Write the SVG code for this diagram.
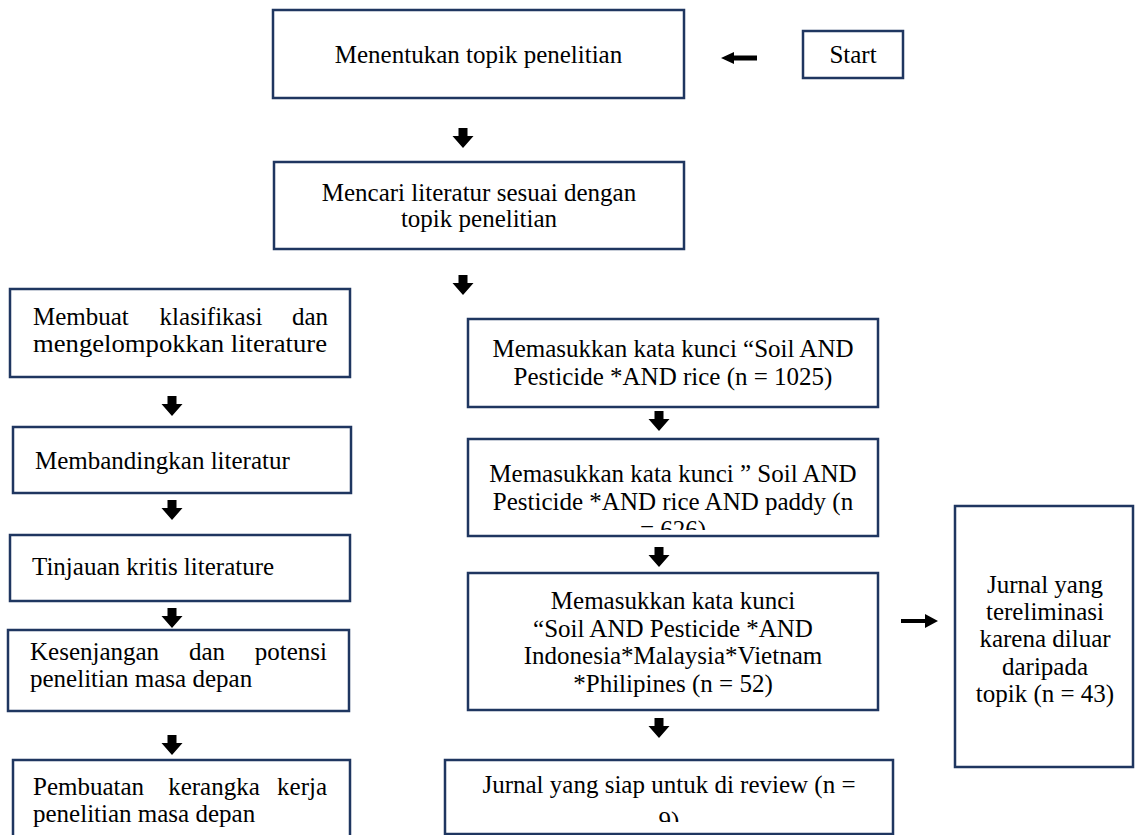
<svg xmlns="http://www.w3.org/2000/svg" width="1135" height="835" viewBox="0 0 1135 835">
<defs>
<style>
.box{fill:#fff;stroke:#1f3660;stroke-width:2.5}
.t{font-family:"Liberation Serif","DejaVu Serif",serif;font-size:25px;fill:#000}
.c{text-anchor:middle}
.e{text-anchor:end}
.arr{fill:#000}
</style>
<path id="down" d="M-4.5,0 H4.5 V8 H10.5 L0,20 L-10.5,8 H-4.5 Z"/>
</defs>
<rect width="1135" height="835" fill="#fff"/>
<g id="connectors" class="arr">
<path d="M721,58 L734,52 V55.5 H757 V60.5 H734 V64 Z"/>
<use href="#down" x="463" y="128"/>
<use href="#down" x="463" y="275"/>
<use href="#down" x="172" y="396"/>
<use href="#down" x="172" y="500"/>
<use href="#down" x="172" y="608"/>
<use href="#down" x="172" y="735"/>
<use href="#down" x="659" y="411"/>
<use href="#down" x="659" y="547"/>
<use href="#down" x="659" y="718"/>
<path d="M901,619 H925 V614 L938,621 L925,628 V623 H901 Z"/>
</g>
<g id="n1"><rect class="box" x="273" y="10" width="411" height="88"/><text class="t c" x="478.5" y="63">Menentukan topik penelitian</text></g>
<g id="start"><rect class="box" x="803" y="31" width="100" height="47"/><text class="t c" x="853" y="63">Start</text></g>
<g id="n2"><rect class="box" x="274" y="162" width="410" height="87"/><text class="t c" x="479" y="201">Mencari literatur sesuai dengan</text><text class="t c" x="479" y="227">topik penelitian</text></g>
<g id="l1"><rect class="box" x="10" y="289" width="340" height="88"/><text class="t" x="33" y="325">Membuat</text><text class="t c" x="211" y="325">klasifikasi</text><text class="t e" x="328" y="325">dan</text><text class="t" x="33" y="352" textLength="294" lengthAdjust="spacingAndGlyphs">mengelompokkan literature</text></g>
<g id="l2"><rect class="box" x="13" y="427" width="338" height="66"/><text class="t" x="35" y="469">Membandingkan literatur</text></g>
<g id="l3"><rect class="box" x="10" y="535" width="340" height="66"/><text class="t" x="32" y="575">Tinjauan kritis literature</text></g>
<g id="l4"><rect class="box" x="8" y="630" width="341" height="81"/><text class="t" x="30" y="660">Kesenjangan</text><text class="t c" x="207" y="660">dan</text><text class="t e" x="327" y="660">potensi</text><text class="t" x="30" y="687">penelitian masa depan</text></g>
<g id="l5"><rect class="box" x="13" y="760" width="337" height="80"/><text class="t" x="33" y="795">Pembuatan</text><text class="t c" x="214" y="795">kerangka</text><text class="t e" x="327" y="795">kerja</text><text class="t" x="33" y="822">penelitian masa depan</text></g>
<g id="m1"><rect class="box" x="468" y="319" width="410" height="88"/><text class="t c" x="673" y="357">Memasukkan kata kunci “Soil AND</text><text class="t c" x="673" y="385">Pesticide *AND rice (n = 1025)</text></g>
<g id="m2"><rect class="box" x="468" y="439" width="410" height="97"/><svg x="468" y="439" width="410" height="91" overflow="hidden"><text class="t c" x="205" y="43">Memasukkan kata kunci ” Soil AND</text><text class="t c" x="205" y="71">Pesticide *AND rice AND paddy  (n</text><text class="t c" x="205" y="99">= 626)</text></svg></g>
<g id="m3"><rect class="box" x="468" y="573" width="410" height="137"/><text class="t c" x="673" y="609">Memasukkan kata kunci</text><text class="t c" x="673" y="637">“Soil AND Pesticide *AND</text><text class="t c" x="673" y="664">Indonesia*Malaysia*Vietnam</text><text class="t c" x="673" y="692">*Philipines (n = 52)</text></g>
<g id="m4"><rect class="box" x="445" y="760" width="448" height="74"/><svg x="445" y="760" width="448" height="62" overflow="hidden"><text class="t c" x="224" y="33">Jurnal yang siap untuk di review (n =</text><text class="t c" x="224" y="69">9)</text></svg></g>
<g id="r1"><rect class="box" x="955" y="506" width="178" height="261"/><text class="t c" x="1045" y="593">Jurnal yang</text><text class="t c" x="1045" y="620">tereliminasi</text><text class="t c" x="1045" y="647">karena diluar</text><text class="t c" x="1045" y="675">daripada</text><text class="t c" x="1045" y="702">topik (n = 43)</text></g>
</svg>
